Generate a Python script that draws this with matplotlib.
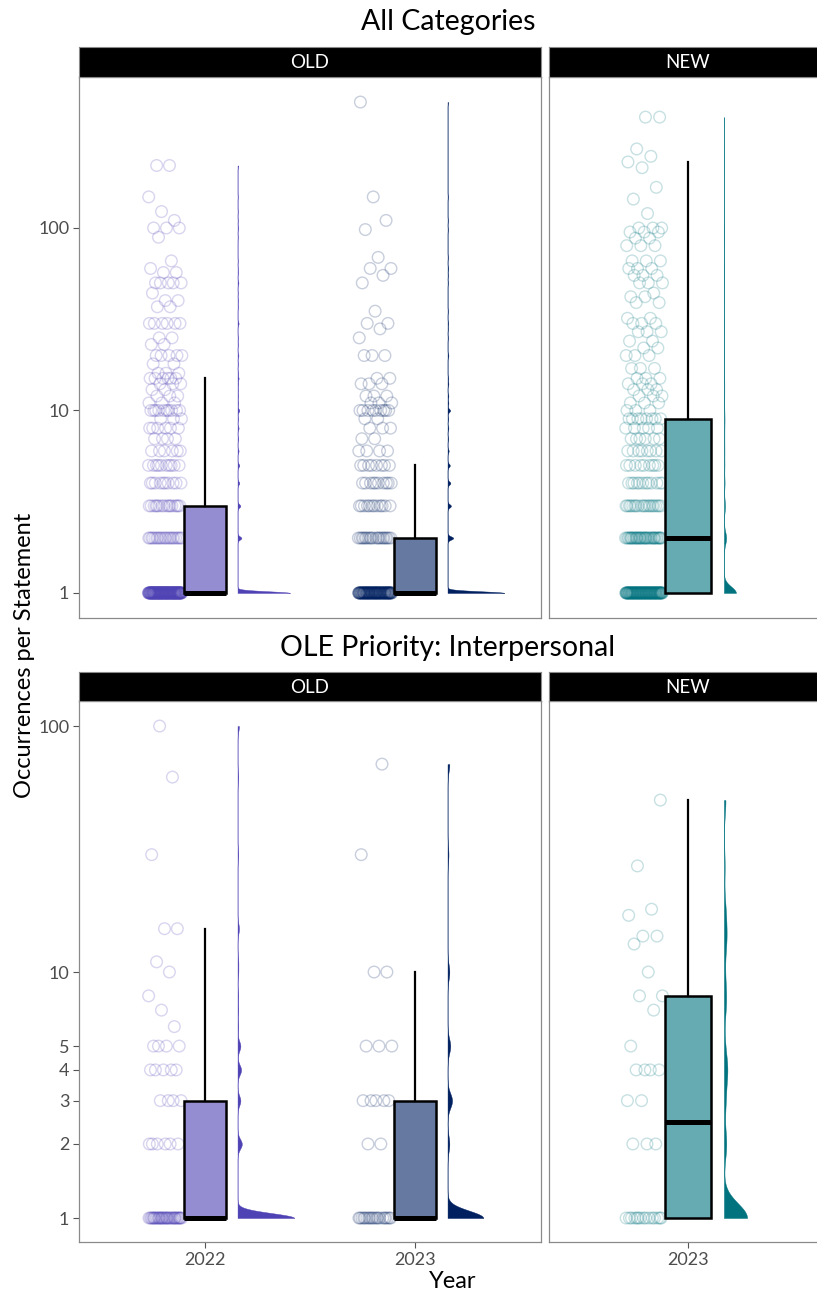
import numpy as np
import matplotlib
matplotlib.use('Agg')
import matplotlib.pyplot as plt
from matplotlib.ticker import FixedLocator, FixedFormatter, NullLocator

plt.rcParams['font.family'] = ['Lato', 'DejaVu Sans']

W, H = 817, 1293

# ---- data (values and how many statements had that value) ----
# All Categories
all_old22_vals = [1, 2, 3, 4, 5, 6, 7, 8, 9, 10, 11, 12, 13, 14, 15, 16, 18, 20, 23, 25, 30, 37, 40, 44, 50, 57, 60, 66, 89, 100, 110, 123, 148, 220]
all_old22_counts = [150, 22, 16, 10, 10, 6, 4, 6, 3, 10, 3, 3, 2, 3, 6, 3, 2, 5, 2, 2, 6, 2, 2, 1, 5, 2, 1, 1, 1, 3, 1, 1, 1, 2]
all_old23_vals = [1, 2, 3, 4, 5, 6, 7, 8, 9, 10, 11, 12, 14, 15, 20, 25, 28, 30, 35, 50, 55, 60, 69, 98, 110, 148, 490]
all_old23_counts = [100, 20, 12, 10, 8, 4, 2, 3, 2, 9, 3, 3, 3, 2, 3, 1, 1, 2, 1, 1, 1, 2, 1, 1, 1, 1, 1]
all_new23_vals = [1, 2, 3, 4, 5, 6, 7, 8, 9, 10, 11, 12, 13, 14, 15, 17, 20, 22, 24, 27, 30, 32, 39, 42, 44, 50, 55, 60, 66, 80, 88, 95, 100, 120, 144, 167, 214, 230, 247, 271, 405]
all_new23_counts = [110, 40, 20, 12, 9, 8, 6, 5, 8, 3, 3, 3, 3, 3, 3, 3, 3, 2, 2, 3, 3, 2, 2, 2, 1, 3, 3, 3, 3, 3, 2, 3, 3, 1, 1, 1, 1, 1, 1, 1, 2]

# OLE Priority: Interpersonal
int_old22_vals = [1, 2, 3, 4, 5, 6, 7, 8, 10, 11, 15, 30, 62, 100]
int_old22_counts = [40, 6, 4, 5, 4, 1, 1, 1, 1, 1, 2, 1, 1, 1]
int_old23_vals = [1, 2, 3, 5, 10, 30, 70]
int_old23_counts = [20, 2, 5, 3, 2, 1, 1]
int_new23_vals = [1, 2, 3, 4, 5, 7, 8, 10, 13, 14, 17, 18, 27, 50]
int_new23_counts = [15, 3, 2, 4, 1, 1, 2, 1, 1, 2, 1, 1, 1, 1]

# box statistics: q1, median, q3, upper whisker
all_box = {'old22': [1, 1, 3, 15], 'old23': [1, 1, 2, 5], 'new23': [1, 2, 9, 230]}
int_box = {'old22': [1, 1, 3, 15], 'old23': [1, 1, 3, 10], 'new23': [1, 2.45, 8, 50]}

COL = {'old22': '#4F42B5', 'old23': '#002060', 'new23': '#00737F'}
FILL = {'old22': '#958DD2', 'old23': '#6679A0', 'new23': '#66ABB2'}


def fa(x0, y0, x1, y1):
    return [x0 / W, 1 - y1 / H, (x1 - x0) / W, (y1 - y0) / H]


def jitter(n):
    # deterministic spread of the points
    i = np.arange(n)
    return 2 * ((i * 0.6180339887 + 0.31) % 1.0) - 1


def draw_group(ax, pos, key, vals, counts, box, bw, vwidth):
    y = np.repeat(vals, counts).astype(float)
    xs = pos - 0.19 + 0.08 * jitter(len(y))
    ax.scatter(xs, y, s=70, facecolors='none', edgecolors=COL[key],
               alpha=0.22, linewidths=1.0, zorder=2)

    # half violin on the log scale, reflected at the data bounds
    ly = np.log10(y)
    lo, hi = ly.min(), ly.max()
    pts = np.concatenate([ly, 2 * lo - ly, 2 * hi - ly])
    g = np.linspace(lo, hi, 1500)
    d = np.exp(-0.5 * ((g[:, None] - pts[None, :]) / bw) ** 2).sum(axis=1)
    d = d / d.max()
    x0 = pos + 0.155
    ax.fill_betweenx(10 ** g, x0, x0 + vwidth * d, color=COL[key],
                     linewidth=0.3, zorder=2)

    q1, med, q3, top = box
    st = [dict(med=med, q1=q1, q3=q3, whislo=q1, whishi=top, fliers=[])]
    bp = ax.bxp(st, positions=[pos], widths=0.2, patch_artist=True,
                showcaps=False, showfliers=False,
                boxprops=dict(facecolor=FILL[key], edgecolor='black', linewidth=1.8),
                medianprops=dict(color='black', linewidth=3.6, solid_capstyle='butt'),
                whiskerprops=dict(color='black', linewidth=1.6))
    for b in bp['boxes']:
        b.set_zorder(3)
    for m in bp['medians'] + bp['whiskers']:
        m.set_zorder(4)


def style_panel(ax, ylim, yticks, show_y, xticks, xlabels):
    ax.set_yscale('log')
    ax.set_ylim(*ylim)
    ax.yaxis.set_minor_locator(NullLocator())
    if show_y:
        ax.yaxis.set_major_locator(FixedLocator(yticks))
        ax.yaxis.set_major_formatter(FixedFormatter([str(t) for t in yticks]))
    else:
        ax.yaxis.set_major_locator(NullLocator())
    if xticks:
        ax.set_xticks(xticks)
        ax.set_xticklabels(xlabels)
    else:
        ax.xaxis.set_major_locator(NullLocator())
    ax.tick_params(axis='both', length=4, width=0.8, color='#555555',
                   labelcolor='#4D4D4D', labelsize=13, pad=3)
    for s in ax.spines.values():
        s.set_color('#8A8A8A')
        s.set_linewidth(0.9)


def strip(fig, rect, label):
    sa = fig.add_axes(rect)
    sa.set_facecolor('black')
    sa.set_xticks([])
    sa.set_yticks([])
    for s in sa.spines.values():
        s.set_color('#8A8A8A')
    sa.text(0.5, 0.48, label, color='white', fontsize=13.5, ha='center', va='center',
            transform=sa.transAxes)


fig = plt.figure(figsize=(W / 100, H / 100), dpi=100)

rows = [
    (47, 77, 618, (0.729, 672), [1, 10, 100], 'All Categories', 22,
     [(all_old22_vals, all_old22_counts), (all_old23_vals, all_old23_counts), (all_new23_vals, all_new23_counts)],
     all_box, {'old22': (0.009, 0.25), 'old23': (0.009, 0.27), 'new23': (0.035, 0.052)}, False),
    (672, 701, 1242, (0.799, 126.4), [1, 2, 3, 4, 5, 10, 100], 'OLE Priority: Interpersonal', 648,
     [(int_old22_vals, int_old22_counts), (int_old23_vals, int_old23_counts), (int_new23_vals, int_new23_counts)],
     int_box, {'old22': (0.02, 0.27), 'old23': (0.03, 0.17), 'new23': (0.06, 0.1)}, True),
]

for (s0, p0, p1, ylim, yticks, title, ty, data, box, kde, bottom) in rows:
    ax_old = fig.add_axes(fa(79, p0, 541, p1))
    ax_new = fig.add_axes(fa(549, p0, 827, p1))
    ax_old.set_xlim(0.4, 2.6)
    ax_new.set_xlim(0.4, 1.6)
    for (pos, key, ax), (v, c) in zip([(1, 'old22', ax_old), (2, 'old23', ax_old), (1, 'new23', ax_new)], data):
        draw_group(ax, pos, key, v, c, box[key], kde[key][0], kde[key][1])
    style_panel(ax_old, ylim, yticks, True, [1, 2] if bottom else None, ['2022', '2023'])
    style_panel(ax_new, ylim, yticks, False, [1] if bottom else None, ['2023'])
    strip(fig, fa(79, s0, 541, p0), 'OLD')
    strip(fig, fa(549, s0, 827, p0), 'NEW')
    fig.text(448 / W, 1 - ty / H, title, fontsize=20.5, ha='center', va='center')

fig.text(25 / W, 1 - 655 / H, 'Occurrences per Statement', fontsize=17,
         rotation=90, ha='center', va='center')
fig.text(453 / W, 1 - 1281 / H, 'Year', fontsize=17, ha='center', va='center')

fig.savefig('out.png', dpi=100, facecolor='white')
